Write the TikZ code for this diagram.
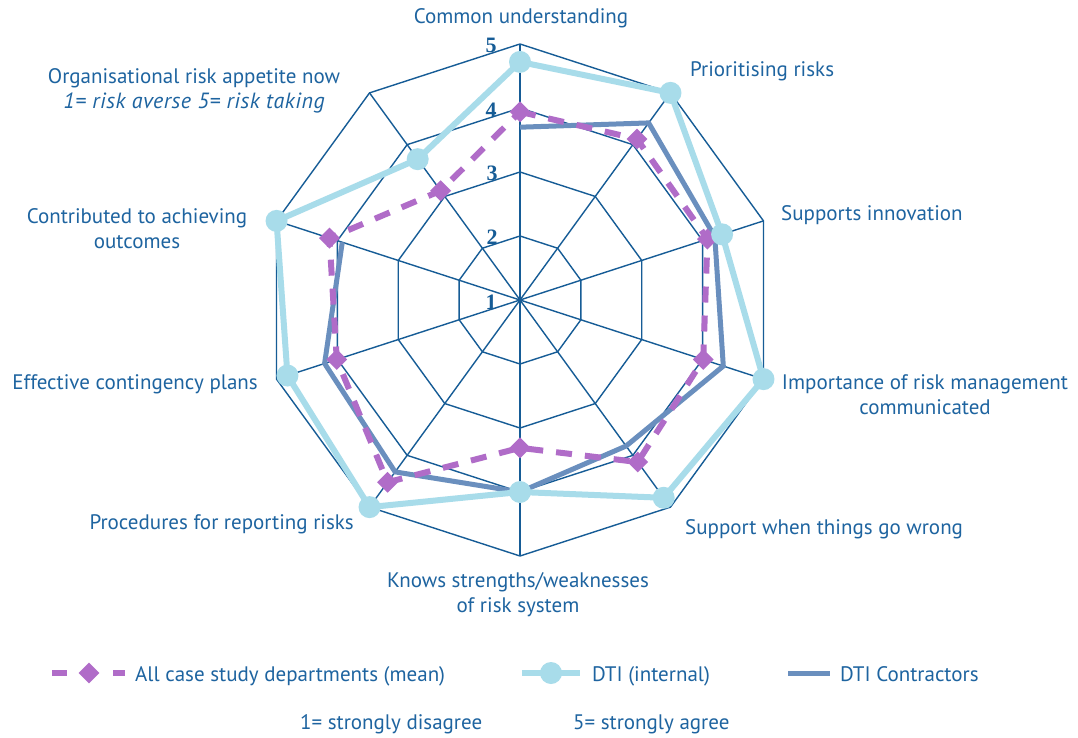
\documentclass[tikz,border=0pt]{standalone}
\usepackage{fontspec}
\setmainfont{PT Sans}
\newfontfamily\numfont{Liberation Serif}
\newfontfamily\itfont[LetterSpace=2.5]{PT Sans Italic}
\usetikzlibrary{shapes.geometric}
\definecolor{gridblue}{RGB}{22,92,150}
\definecolor{txtblue}{RGB}{30,100,160}
\definecolor{intblue}{RGB}{168,220,234}
\definecolor{conblue}{RGB}{106,143,190}
\definecolor{purp}{RGB}{176,108,200}
\tikzset{
  gridline/.style={draw=gridblue, line width=1.4pt},
  lbl/.style={font=\fontsize{21}{25}\selectfont, text=txtblue, inner sep=0pt},
  lvl/.style={font=\numfont\bfseries\fontsize{22}{24}\selectfont, text=gridblue, inner sep=0pt},
  intline/.style={draw=intblue, line width=6pt, line join=round},
  conline/.style={draw=conblue, line width=5pt, line join=miter},
  purline/.style={draw=purp, line width=6pt, dash pattern=on 16pt off 13pt},
  intdot/.style={circle, fill=intblue, minimum size=22pt, inner sep=0pt},
  purdia/.style={diamond, fill=purp, minimum size=21pt, inner sep=0pt}
}
\begin{document}
\begin{tikzpicture}[x=1pt,y=-1pt]
\useasboundingbox (0,0) rectangle (1078,738);
\fill[white] (0,0) rectangle (1078,738);
\begin{scope}[shift={(520,300)}, y=1pt]
  \coordinate (C) at (0,0);
  % grid
  \foreach \i in {0,...,9} {
    \coordinate (S\i) at ({90-36*\i}:256);
    \draw[gridline] (C) -- (S\i);
  }
  \foreach \r in {64,128,192,256} {
    \draw[gridline, line join=miter] (90:\r) \foreach \i in {1,...,9} { -- ({90-36*\i}:\r) } -- cycle;
  }
  % data
  \foreach \v [count=\i from 0] in {4.72,5.0,4.32,5.0,4.82,4.0,5.0,4.82,5.0,3.72}
    \coordinate (I\i) at ({90-36*\i}:{(\v-1)*64});
  \foreach \v [count=\i from 0] in {3.94,4.11,4.08,4.01,4.13,3.31,4.52,4.01,4.13,3.11}
    \coordinate (P\i) at ({90-36*\i}:{(\v-1)*64});
  \foreach \v [count=\i from 0] in {3.70,4.42,4.2,4.34,3.82,4.0,4.32,4.21,3.92}
    \coordinate (K\i) at ({90-36*\i}:{(\v-1)*64});
  \draw[conline] (K0) -- (K1) -- (K2) -- (K3) -- (K4) -- (K5) -- (K6) -- (K7) -- (K8);
  \draw[purline] (P0) -- (P1) -- (P2) -- (P3) -- (P4) -- (P5) -- (P6) -- (P7) -- (P8) -- (P9) -- cycle;
  \foreach \i in {0,...,9} \node[purdia] (DP\i) at (P\i) {};
  \draw[intline] (I0) -- (I1) -- (I2) -- (I3) -- (I4) -- (I5) -- (I6) -- (I7) -- (I8) -- (I9) -- cycle;
  \foreach \i in {0,...,9} \node[intdot] (DI\i) at (I\i) {};
\end{scope}
% level numbers
\node[lvl] (L5) at (491,45) {5};
\node[lvl] (L4) at (491,110) {4};
\node[lvl] (L3) at (492,173) {3};
\node[lvl] (L2) at (492,237) {2};
\node[lvl] (L1) at (491,302) {1};
% axis labels
\node[lbl, anchor=base] (t0) at (521,24) {Common understanding};
\node[lbl, anchor=base west] (t1) at (690,77) {Prioritising risks};
\node[lbl, anchor=base west] (t2) at (781,220) {Supports innovation};
\node[lbl, anchor=base] (t3a) at (925,389) {Importance of risk management};
\node[lbl, anchor=base] (t3b) at (925,414) {communicated};
\node[lbl, anchor=base west] (t4) at (685,534) {Support when things go wrong};
\node[lbl, anchor=base] (t5a) at (518,587) {Knows strengths/weaknesses};
\node[lbl, anchor=base] (t5b) at (518,612) {of risk system};
\node[lbl, anchor=base east] (t6) at (354,529) {Procedures for reporting risks};
\node[lbl, anchor=base east] (t7) at (258,389) {Effective contingency plans};
\node[lbl, anchor=base] (t8a) at (137,223) {Contributed to achieving};
\node[lbl, anchor=base] (t8b) at (137,248) {outcomes};
\node[lbl, anchor=base] (t9a) at (194,84) {Organisational risk appetite now};
\node[lbl, anchor=base, font=\itfont\fontsize{22}{25}\selectfont] (t9b) at (194,109) {1= risk averse 5= risk taking};
% legend
\coordinate (lp1) at (52,673); \coordinate (lp2) at (67,673);
\coordinate (lp3) at (113,673); \coordinate (lp4) at (125,673);
\draw[draw=purp, line width=6pt] (lp1) -- (lp2) (lp3) -- (lp4);
\node[purdia] (lgd1) at (89,673) {};
\node[lbl, anchor=base west] (lgt1) at (135,681) {All case study departments (mean)};
\coordinate (li1) at (522,673); \coordinate (li2) at (580,673);
\draw[intline] (li1) -- (li2);
\node[intdot] (lgd2) at (551,673) {};
\node[lbl, anchor=base west] (lgt2) at (592,681) {DTI (internal)};
\coordinate (lc1) at (788,673); \coordinate (lc2) at (830,673);
\draw[conline] (lc1) -- (lc2);
\node[lbl, anchor=base west] (lgt3) at (840,681) {DTI Contractors};
\node[lbl, anchor=base west] (sc1) at (300,729) {1= strongly disagree};
\node[lbl, anchor=base west] (sc5) at (573,729) {5= strongly agree};
\end{tikzpicture}
\end{document}
